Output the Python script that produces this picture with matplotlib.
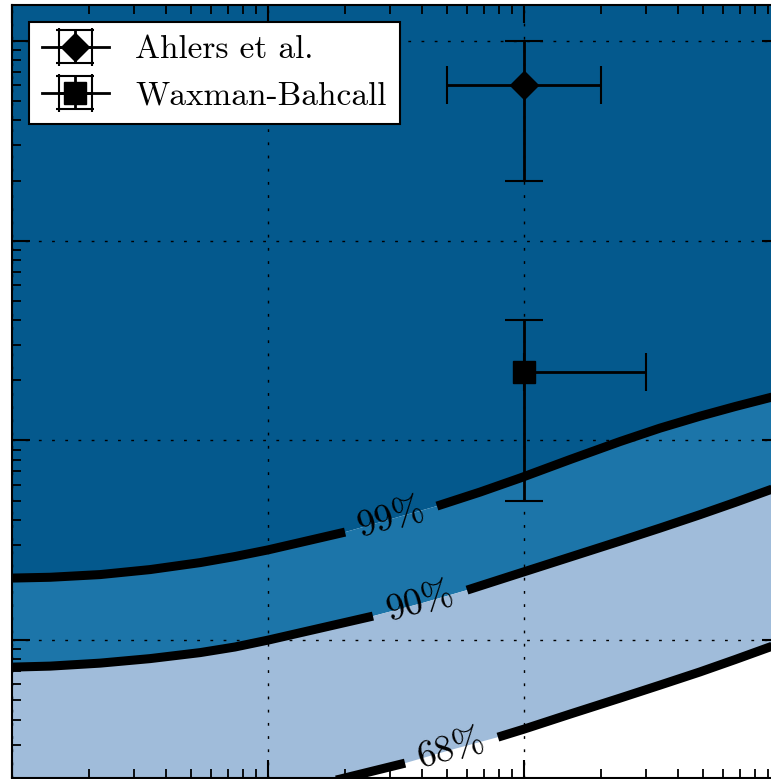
import numpy as np
import matplotlib
matplotlib.use('Agg')
import matplotlib.pyplot as plt

plt.rcParams['font.family'] = ['cmr10', 'DejaVu Serif']
plt.rcParams['mathtext.fontset'] = 'cm'
plt.rcParams['axes.formatter.use_mathtext'] = True

# ---- data ----
x_lim = (1.0, 1000.0)
y_lim = (2.04e-8, 1.514e-4)

c99_x = [1.0, 1.41, 2.21, 3.46, 5.43, 7.43, 10.0, 20.0, 45.7, 67.3, 96.5, 151.2,
         237.1, 339.8, 486.9, 667.2, 922.2, 1000.0]
c99_y = [2.045e-7, 2.064e-7, 2.129e-7, 2.255e-7, 2.444e-7, 2.622e-7, 2.830e-7,
         3.474e-7, 4.690e-7, 5.51e-7, 6.478e-7, 8.017e-7, 9.867e-7, 1.152e-6,
         1.322e-6, 1.477e-6, 1.643e-6, 1.687e-6]
c99_gap = (7, 8)

c90_x = [1.0, 1.41, 2.21, 3.46, 5.43, 7.43, 10.0, 25.7, 39.3, 59.9, 96.5, 151.2,
         237.1, 339.8, 486.9, 667.2, 922.2, 1000.0]
c90_y = [7.325e-8, 7.41e-8, 7.67e-8, 8.08e-8, 8.659e-8, 9.238e-8, 1.0e-7, 1.319e-7,
         1.523e-7, 1.78e-7, 2.166e-7, 2.604e-7, 3.132e-7, 3.639e-7, 4.247e-7,
         4.889e-7, 5.680e-7, 5.893e-7]
c90_gap = (7, 9)

c68_x = [1.0, 2.21, 5.43, 10.0, 19.1, 34.3, 51.4, 79.1, 100.0, 151.2, 237.1, 339.8,
         486.9, 667.2, 922.2, 1000.0]
c68_y = [1.212e-8, 1.269e-8, 1.441e-8, 1.674e-8, 2.013e-8, 2.421e-8, 2.813e-8,
         3.267e-8, 3.584e-8, 4.26e-8, 5.124e-8, 5.953e-8, 6.931e-8, 7.987e-8,
         9.279e-8, 9.627e-8]
c68_gap = (5, 7)

contour_labels = ['99%', '90%', '68%']

ahlers_x, ahlers_xlo, ahlers_xhi = 100.0, 50.0, 200.0
ahlers_y, ahlers_ylo, ahlers_yhi = 6.0e-5, 2.0e-5, 1.0e-4

wb_x, wb_xlo, wb_xhi = 100.0, 100.0, 300.0
wb_y, wb_ylo, wb_yhi = 2.2e-6, 5.0e-7, 4.0e-6

legend_labels = ['Ahlers et al.', 'Waxman-Bahcall']

col_dark = '#04598d'
col_mid = '#1c75a9'
col_light = '#a0bcda'

# ---- figure ----
W, H = 771, 779
fig = plt.figure(figsize=(W / 100, H / 100), dpi=100)
ax = fig.add_axes([12 / W, 1 / H, 768 / W, 773 / H])
ax.set_xscale('log')
ax.set_yscale('log')
ax.set_xlim(*x_lim)
ax.set_ylim(*y_lim)

# filled regions
top = y_lim[1] * 10
ax.fill(list(c99_x) + [c99_x[-1], c99_x[0]], list(c99_y) + [top, top],
        color=col_dark, lw=0, zorder=1)
ax.fill(list(c99_x) + list(c90_x[::-1]), list(c99_y) + list(c90_y[::-1]),
        color=col_mid, lw=0, zorder=1)
ax.fill(list(c90_x) + list(c68_x[::-1]), list(c90_y) + list(c68_y[::-1]),
        color=col_light, lw=0, zorder=1)

# contour lines with label gaps
curves = [(c99_x, c99_y, c99_gap), (c90_x, c90_y, c90_gap), (c68_x, c68_y, c68_gap)]
for (cx, cy, (g0, g1)), lab in zip(curves, contour_labels):
    ax.plot(cx[:g0 + 1], cy[:g0 + 1], color='k', lw=6.5, solid_capstyle='butt',
            solid_joinstyle='round', zorder=3)
    ax.plot(cx[g1:], cy[g1:], color='k', lw=6.5, solid_capstyle='butt',
            solid_joinstyle='round', zorder=3)
    p0 = ax.transData.transform((cx[g0], cy[g0]))
    p1 = ax.transData.transform((cx[g1], cy[g1]))
    ang = np.degrees(np.arctan2(p1[1] - p0[1], p1[0] - p0[0]))
    pm = ax.transData.inverted().transform((p0 + p1) / 2)
    ax.text(pm[0], pm[1], lab, fontsize=27, rotation=ang, rotation_mode='anchor',
            ha='center', va='center', color='k', zorder=4)

# data points
ax.errorbar([ahlers_x], [ahlers_y],
            xerr=[[ahlers_x - ahlers_xlo], [ahlers_xhi - ahlers_x]],
            yerr=[[ahlers_y - ahlers_ylo], [ahlers_yhi - ahlers_y]],
            fmt='D-', color='k', ms=14, lw=2, elinewidth=2, capsize=14, capthick=1.5,
            label=legend_labels[0], zorder=5)
ax.errorbar([wb_x], [wb_y],
            xerr=[[wb_x - wb_xlo], [wb_xhi - wb_x]],
            yerr=[[wb_y - wb_ylo], [wb_yhi - wb_y]],
            fmt='s-', color='k', ms=16, lw=2, elinewidth=2, capsize=14, capthick=1.5,
            label=legend_labels[1], zorder=5)

# grid, ticks, spines
ax.grid(True, which='major', color='black', linestyle=(0, (2, 7.5)), linewidth=1.0)
ax.tick_params(which='major', direction='in', length=13, width=1.5,
               top=True, right=True, bottom=True, left=True)
ax.tick_params(which='minor', direction='in', length=6.5, width=1.3,
               top=True, right=True, bottom=True, left=True)
ax.tick_params(labelbottom=False, labelleft=False)
for s in ax.spines.values():
    s.set_linewidth(1.5)

leg = ax.legend(loc='upper left', fontsize=24, fancybox=False, edgecolor='black',
                framealpha=1, numpoints=1)
leg.get_frame().set_linewidth(1.5)
leg.set_zorder(10)

fig.savefig('out.png', dpi=100)
